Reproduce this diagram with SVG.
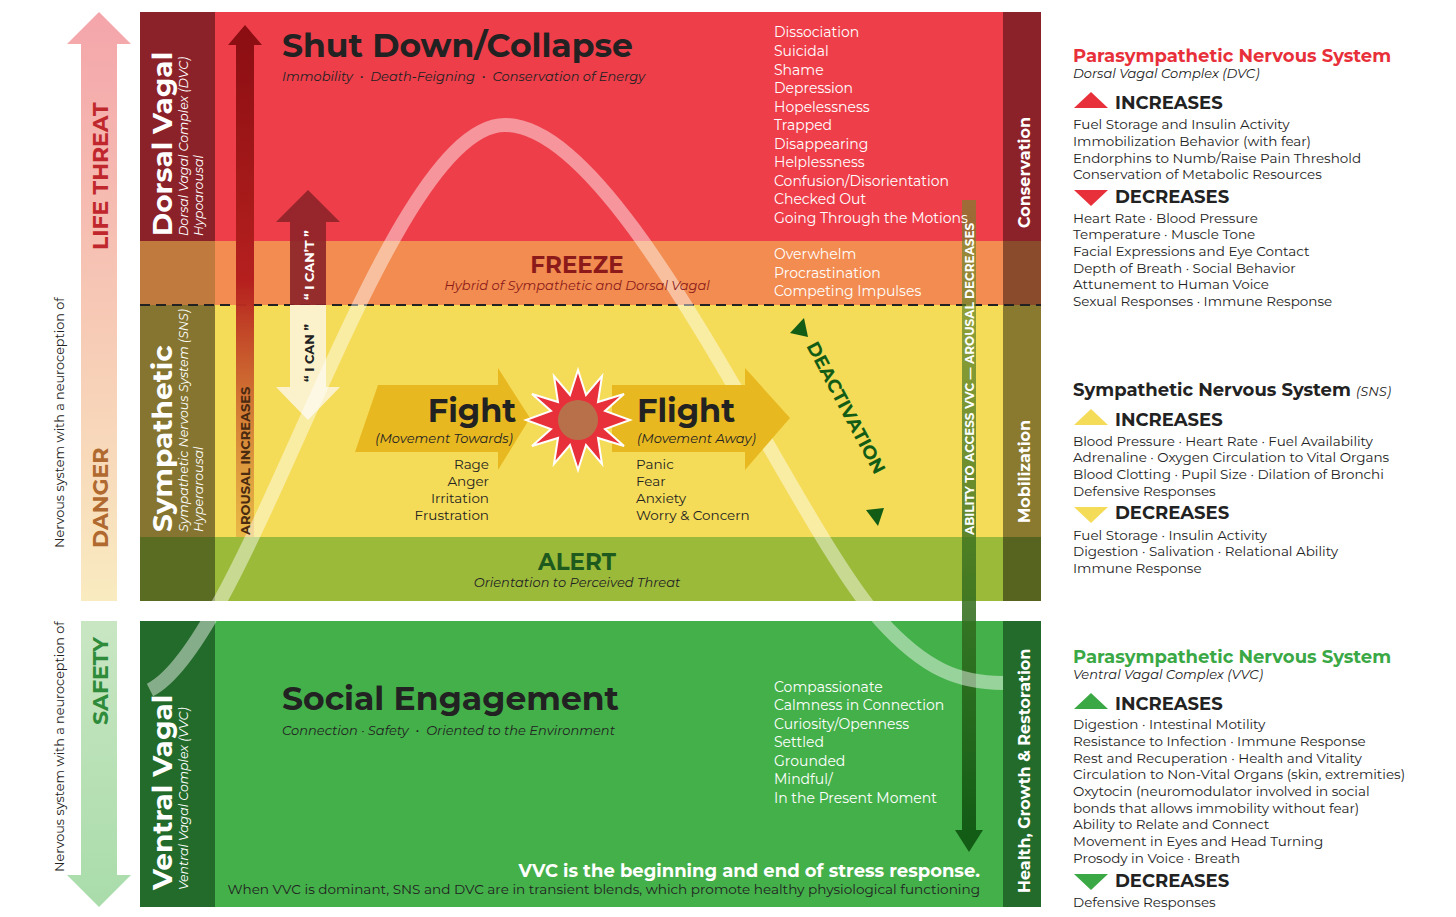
<svg xmlns="http://www.w3.org/2000/svg" width="1456" height="917" viewBox="0 0 1456 917">
<defs>
<style>
text{font-family:"Montserrat","Noto Sans","Liberation Sans",sans-serif}
.w{fill:#fff}
.li{fill:#fff;font-size:14px}
.rt{fill:#222;font-size:13.5px}
.rh{font-size:18px;font-weight:bold;fill:#222}
.it{font-style:italic}
</style>
<linearGradient id="lt" x1="0" y1="0" x2="0" y2="1"><stop offset="0" stop-color="#f4a5aa"/><stop offset="1" stop-color="#f9ebc0"/></linearGradient>
<linearGradient id="sf" x1="0" y1="0" x2="0" y2="1"><stop offset="0" stop-color="#c9e6c3"/><stop offset="1" stop-color="#a9dcaa"/></linearGradient>
<linearGradient id="ar" x1="0" y1="0" x2="0" y2="1"><stop offset="0" stop-color="#8a0d12"/><stop offset="0.5" stop-color="#b5201e"/><stop offset="1" stop-color="#e0a23a" stop-opacity="0.6"/></linearGradient>
<linearGradient id="dg" x1="0" y1="0" x2="0" y2="1"><stop offset="0" stop-color="#6b8a2a" stop-opacity="0.6"/><stop offset="1" stop-color="#135c16"/></linearGradient>
</defs>
<rect width="1456" height="917" fill="#fff"/>
<g id="side-arrows">
<polygon points="99,12 131,44 117,44 117,601 81,601 81,44 67,44" fill="url(#lt)"/>
<polygon points="81,621 117,621 117,875 131,875 99,907 67,875 81,875" fill="url(#sf)"/>
<text transform="translate(108,250) rotate(-90)" font-size="22" font-weight="bold" fill="#c0272d">LIFE  THREAT</text>
<text transform="translate(108,548) rotate(-90)" font-size="22" font-weight="bold" fill="#b06a30">DANGER</text>
<text transform="translate(108,725) rotate(-90)" font-size="22" font-weight="bold" fill="#2e8b3a">SAFETY</text>
<text transform="translate(64,548) rotate(-90)" font-size="12.8" fill="#222">Nervous system with a neuroception of</text>
<text transform="translate(64,872) rotate(-90)" font-size="12.8" fill="#222">Nervous system with a neuroception of</text>
</g>
<g id="bands">
<rect x="140" y="12" width="901" height="229" fill="#ee3e4a"/>
<rect x="140" y="241" width="901" height="64" fill="#f28c50"/>
<rect x="140" y="305" width="901" height="232" fill="#f5dc58"/>
<rect x="140" y="537" width="901" height="64" fill="#9cba3a"/>
<rect x="140" y="621" width="901" height="286" fill="#44b04a"/>
<rect x="140" y="12" width="75" height="229" fill="#8c2229"/>
<rect x="140" y="241" width="75" height="64" fill="#c07a3e"/>
<rect x="140" y="305" width="75" height="232" fill="#857530"/>
<rect x="140" y="537" width="75" height="64" fill="#5a6b22"/>
<rect x="140" y="621" width="75" height="286" fill="#236b2b"/>
<rect x="1003" y="12" width="38" height="229" fill="#8c2229"/>
<rect x="1003" y="241" width="38" height="64" fill="#8a4a2c"/>
<rect x="1003" y="305" width="38" height="232" fill="#8a7a30"/>
<rect x="1003" y="537" width="38" height="64" fill="#566420"/>
<rect x="1003" y="621" width="38" height="286" fill="#236b2b"/>
<line x1="140" y1="305" x2="1041" y2="305" stroke="#222" stroke-width="2" stroke-dasharray="10,6"/>
</g>
<g id="connectors">
<polygon points="245,25 262,45 254,45 254,537 236,537 236,45 228,45" fill="url(#ar)"/>
<rect x="962" y="200" width="14" height="630" fill="url(#dg)"/>
<polygon points="955,830 983,830 969,852" fill="#135c16"/>
<polygon points="308,190 340,222 326,222 326,305 290,305 290,222 276,222" fill="#8c2229" opacity="0.9"/>
<polygon points="290,305 326,305 326,387 340,387 308,420 276,387 290,387" fill="#fbf2cc"/>
<path d="M150,690 C250,640 385,125 505,125 C625,125 790,520 880,620 C925,670 960,683 1003,683" fill="none" stroke="#fff" stroke-opacity="0.45" stroke-width="14"/>
<polygon points="790,333 804,318 808,337" fill="#135c16"/>
<polygon points="866,510 884,508 878,526" fill="#135c16"/>
</g>
<g id="labels-left">
<text transform="translate(172,236) rotate(-90)" font-size="28" font-weight="bold" class="w">Dorsal Vagal</text>
<text transform="translate(188,236) rotate(-90)" font-size="12.5" class="w it">Dorsal Vagal Complex (DVC)</text>
<text transform="translate(203,236) rotate(-90)" font-size="12.5" class="w it">Hypoarousal</text>
<text transform="translate(172,532) rotate(-90)" font-size="28" font-weight="bold" class="w">Sympathetic</text>
<text transform="translate(188,532) rotate(-90)" font-size="12.5" class="w it">Sympathetic Nervous System (SNS)</text>
<text transform="translate(203,532) rotate(-90)" font-size="12.5" class="w it">Hyperarousal</text>
<text transform="translate(172,890) rotate(-90)" font-size="28" font-weight="bold" class="w">Ventral Vagal</text>
<text transform="translate(188,890) rotate(-90)" font-size="12.5" class="w it">Ventral Vagal Complex (VVC)</text>
<text transform="translate(250,535) rotate(-90)" font-size="13" font-weight="bold" fill="#4a2a10">AROUSAL INCREASES</text>
<text transform="translate(314,300) rotate(-90)" font-size="13" font-weight="bold" class="w">“ I CAN’T ”</text>
<text transform="translate(314,382) rotate(-90)" font-size="13" font-weight="bold" fill="#222">“ I CAN ”</text>
<text transform="translate(1030,228) rotate(-90)" font-size="16" font-weight="bold" class="w">Conservation</text>
<text transform="translate(1030,523) rotate(-90)" font-size="16" font-weight="bold" class="w">Mobilization</text>
<text transform="translate(1030,893) rotate(-90)" font-size="16" font-weight="bold" class="w">Health, Growth &amp; Restoration</text>
<text transform="translate(974,535) rotate(-90)" font-size="12" font-weight="bold" class="w">ABILITY TO ACCESS VVC — AROUSAL DECREASES</text>
<text transform="translate(806,346) rotate(62)" font-size="18.5" font-weight="bold" fill="#135c16">DEACTIVATION</text>
</g>
<g id="shutdown">
<text x="282" y="57" font-size="33" font-weight="bold" fill="#222">Shut Down/Collapse</text>
<text x="282" y="81" font-size="13" class="it" fill="#222" xml:space="preserve">Immobility  •  Death-Feigning  •  Conservation of Energy</text>
<text x="774" y="37" class="li">Dissociation</text>
<text x="774" y="56" class="li">Suicidal</text>
<text x="774" y="75" class="li">Shame</text>
<text x="774" y="93" class="li">Depression</text>
<text x="774" y="112" class="li">Hopelessness</text>
<text x="774" y="130" class="li">Trapped</text>
<text x="774" y="149" class="li">Disappearing</text>
<text x="774" y="167" class="li">Helplessness</text>
<text x="774" y="186" class="li">Confusion/Disorientation</text>
<text x="774" y="204" class="li">Checked Out</text>
<text x="774" y="223" class="li">Going Through the Motions</text>
</g>
<g id="freeze">
<text x="577" y="273" font-size="23" font-weight="bold" fill="#8c1a1a" text-anchor="middle">FREEZE</text>
<text x="577" y="290" font-size="13" class="it" fill="#8c1a1a" text-anchor="middle">Hybrid of Sympathetic and Dorsal Vagal</text>
<text x="774" y="259" class="li">Overwhelm</text>
<text x="774" y="278" class="li">Procrastination</text>
<text x="774" y="296" class="li">Competing Impulses</text>
</g>
<g id="fight">
<polygon points="378,385 498,385 498,368 530,418 498,470 498,452 355,452" fill="#e8b820"/>
<text x="472" y="422" font-size="32" font-weight="bold" fill="#222" text-anchor="middle">Fight</text>
<text x="444" y="443" font-size="13" class="it" fill="#222" text-anchor="middle">(Movement Towards)</text>
<text x="489" y="469" font-size="13.5" fill="#222" text-anchor="end">Rage</text>
<text x="489" y="486" font-size="13.5" fill="#222" text-anchor="end">Anger</text>
<text x="489" y="503" font-size="13.5" fill="#222" text-anchor="end">Irritation</text>
<text x="489" y="520" font-size="13.5" fill="#222" text-anchor="end">Frustration</text>
</g>
<g id="flight">
<polygon points="612,385 745,385 745,368 790,418 745,470 745,452 612,452" fill="#e8b820"/>
<text x="637" y="422" font-size="32" font-weight="bold" fill="#222">Flight</text>
<text x="637" y="443" font-size="13" class="it" fill="#222">(Movement Away)</text>
<text x="636" y="469" font-size="13.5" fill="#222">Panic</text>
<text x="636" y="486" font-size="13.5" fill="#222">Fear</text>
<text x="636" y="503" font-size="13.5" fill="#222">Anxiety</text>
<text x="636" y="520" font-size="13.5" fill="#222">Worry &amp; Concern</text>
</g>
<g id="star">
<polygon points="578,370 586,395 602,376 598,402 624,394 605,411 630,420 605,429 624,446 598,438 602,464 586,445 578,470 570,445 554,464 558,438 532,446 551,429 526,420 551,411 532,394 558,402 554,376 570,395" fill="#e8303a" stroke="#fff" stroke-width="2"/>
<circle cx="578" cy="420" r="20" fill="#b8704a"/>
</g>
<g id="alert">
<text x="577" y="570" font-size="23" font-weight="bold" fill="#1e5a1e" text-anchor="middle">ALERT</text>
<text x="577" y="587" font-size="13" class="it" fill="#222" text-anchor="middle">Orientation to Perceived Threat</text>
</g>
<g id="social">
<text x="282" y="710" font-size="33" font-weight="bold" fill="#222">Social Engagement</text>
<text x="282" y="735" font-size="13" class="it" fill="#222" xml:space="preserve">Connection · Safety  •  Oriented to the Environment</text>
<text x="774" y="692" class="li">Compassionate</text>
<text x="774" y="710" class="li">Calmness in Connection</text>
<text x="774" y="729" class="li">Curiosity/Openness</text>
<text x="774" y="747" class="li">Settled</text>
<text x="774" y="766" class="li">Grounded</text>
<text x="774" y="784" class="li">Mindful/</text>
<text x="774" y="803" class="li">In the Present Moment</text>
<text x="980" y="877" font-size="18" font-weight="bold" class="w" text-anchor="end">VVC is the beginning and end of stress response.</text>
<text x="980" y="894" font-size="13.6" fill="#222" text-anchor="end">When VVC is dominant, SNS and DVC are in transient blends, which promote healthy physiological functioning</text>
</g>
<g id="dvc-legend">
<text x="1073" y="62" font-size="18" font-weight="bold" fill="#e8303a">Parasympathetic Nervous System</text>
<text x="1073" y="78" font-size="13" class="it" fill="#222">Dorsal Vagal Complex (DVC)</text>
<polygon points="1091,92 1108,108 1074,108" fill="#e8303a"/>
<text x="1115" y="109" class="rh">INCREASES</text>
<text x="1073" y="129" class="rt">Fuel Storage and Insulin Activity</text>
<text x="1073" y="146" class="rt">Immobilization Behavior (with fear)</text>
<text x="1073" y="163" class="rt">Endorphins to Numb/Raise Pain Threshold</text>
<text x="1073" y="179" class="rt">Conservation of Metabolic Resources</text>
<polygon points="1074,190 1108,190 1091,206" fill="#e8303a"/>
<text x="1115" y="203" class="rh">DECREASES</text>
<text x="1073" y="223" class="rt">Heart Rate · Blood Pressure</text>
<text x="1073" y="239" class="rt">Temperature · Muscle Tone</text>
<text x="1073" y="256" class="rt">Facial Expressions and Eye Contact</text>
<text x="1073" y="273" class="rt">Depth of Breath · Social Behavior</text>
<text x="1073" y="289" class="rt">Attunement to Human Voice</text>
<text x="1073" y="306" class="rt">Sexual Responses · Immune Response</text>
</g>
<g id="sns-legend">
<text x="1073" y="396" font-size="18" font-weight="bold" fill="#222">Sympathetic Nervous System <tspan font-size="13" font-style="italic" font-weight="normal">(SNS)</tspan></text>
<polygon points="1091,409 1108,425 1074,425" fill="#f5dc58"/>
<text x="1115" y="426" class="rh">INCREASES</text>
<text x="1073" y="446" class="rt">Blood Pressure · Heart Rate · Fuel Availability</text>
<text x="1073" y="462" class="rt">Adrenaline · Oxygen Circulation to Vital Organs</text>
<text x="1073" y="479" class="rt">Blood Clotting · Pupil Size · Dilation of Bronchi</text>
<text x="1073" y="496" class="rt">Defensive Responses</text>
<polygon points="1074,507 1108,507 1091,523" fill="#f5dc58"/>
<text x="1115" y="519" class="rh">DECREASES</text>
<text x="1073" y="540" class="rt">Fuel Storage · Insulin Activity</text>
<text x="1073" y="556" class="rt">Digestion · Salivation · Relational Ability</text>
<text x="1073" y="573" class="rt">Immune Response</text>
</g>
<g id="vvc-legend">
<text x="1073" y="663" font-size="18" font-weight="bold" fill="#3aa844">Parasympathetic Nervous System</text>
<text x="1073" y="679" font-size="13" class="it" fill="#222">Ventral Vagal Complex (VVC)</text>
<polygon points="1091,693 1108,709 1074,709" fill="#3aa844"/>
<text x="1115" y="710" class="rh">INCREASES</text>
<text x="1073" y="729" class="rt">Digestion · Intestinal Motility</text>
<text x="1073" y="746" class="rt">Resistance to Infection · Immune Response</text>
<text x="1073" y="763" class="rt">Rest and Recuperation · Health and Vitality</text>
<text x="1073" y="779" class="rt">Circulation to Non-Vital Organs (skin, extremities)</text>
<text x="1073" y="796" class="rt">Oxytocin (neuromodulator involved in social</text>
<text x="1073" y="813" class="rt">bonds that allows immobility without fear)</text>
<text x="1073" y="829" class="rt">Ability to Relate and Connect</text>
<text x="1073" y="846" class="rt">Movement in Eyes and Head Turning</text>
<text x="1073" y="863" class="rt">Prosody in Voice · Breath</text>
<polygon points="1074,874 1108,874 1091,890" fill="#3aa844"/>
<text x="1115" y="887" class="rh">DECREASES</text>
<text x="1073" y="907" class="rt">Defensive Responses</text>
</g>
</svg>
